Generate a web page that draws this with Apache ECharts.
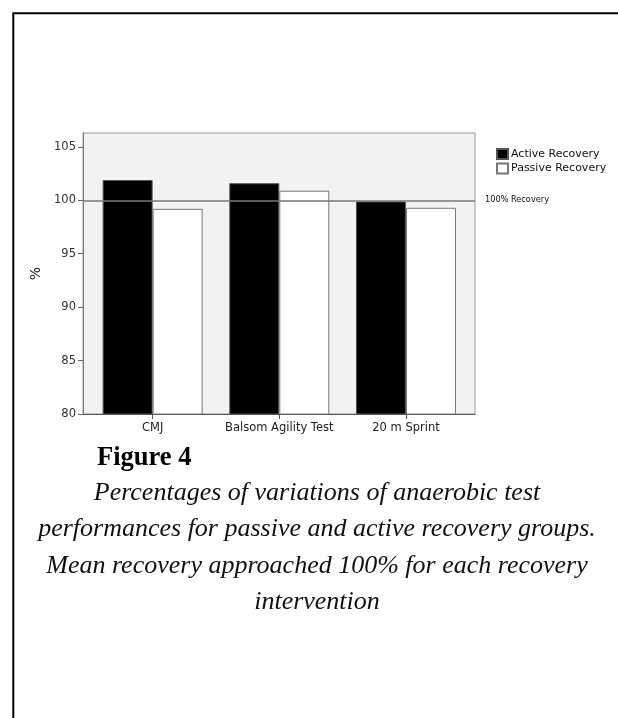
<!DOCTYPE html>
<html>
<head>
<meta charset="utf-8">
<script src="https://cdn.jsdelivr.net/npm/echarts@6/dist/echarts.min.js"></script>
<style>
  html, body { margin: 0; padding: 0; background: #fff; }
  #chart { width: 618px; height: 718px; }
</style>
</head>
<body>
<div id="chart"></div>
<script>
// ---- data ----
const categories = ['CMJ', 'Balsom Agility Test', '20 m Sprint'];
const activeRecovery = [101.9, 101.6, 99.9];
const passiveRecovery = [99.2, 100.9, 99.3];
const seriesNames = ['Active Recovery', 'Passive Recovery'];
const yTickValues = [80, 85, 90, 95, 100, 105];
const referenceValue = 100;
const referenceLabel = '100% Recovery';
const yAxisName = '%';
const figureTitle = 'Figure 4';
const captionLines = [
  'Percentages of variations of anaerobic test',
  'performances for passive and active recovery groups.',
  'Mean recovery approached 100% for each recovery',
  'intervention'
];

const yMin = 80, yMax = 106.3;
const sans = 'DejaVu Sans';

const chart = echarts.init(document.getElementById('chart'), null, { renderer: 'canvas' });

chart.setOption({
  animation: false,
  backgroundColor: '#ffffff',
  grid: [
    { // background frame
      left: 83, top: 133, width: 392, height: 281,
      show: true, backgroundColor: '#f2f2f2', borderColor: '#9a9a9a', borderWidth: 1,
      containLabel: false, outerBoundsMode: 'none'
    },
    { // bars
      left: 89.3, top: 133, width: 380, height: 281,
      show: false, containLabel: false, outerBoundsMode: 'none'
    }
  ],
  legend: {
    orient: 'vertical',
    left: 496, top: 148,
    itemWidth: 11, itemHeight: 10, itemGap: 2.5,
    icon: 'rect',
    padding: 0,
    data: seriesNames,
    textStyle: { fontFamily: sans, fontSize: 11, color: '#111', padding: [0, 0, 0, -2] },
    selectedMode: false
  },
  xAxis: [
    {
      type: 'category', gridIndex: 0, data: categories,
      axisLine: { show: true, lineStyle: { color: '#555', width: 1.2 } },
      axisTick: { show: false }, axisLabel: { show: false }, splitLine: { show: false }
    },
    {
      type: 'category', gridIndex: 1, data: categories,
      axisLine: { show: false },
      axisTick: { show: true, alignWithLabel: true, interval: 0, length: 5, lineStyle: { color: '#555' } },
      axisLabel: { show: true, interval: 0, hideOverlap: false, margin: 8, fontFamily: sans, fontSize: 11.5, color: '#222' },
      splitLine: { show: false }
    }
  ],
  yAxis: [
    {
      type: 'value', gridIndex: 0, min: yMin, max: yMax,
      name: yAxisName, nameLocation: 'middle', nameGap: 36, nameRotate: 90,
      nameTextStyle: { fontFamily: sans, fontSize: 14, color: '#222' },
      axisLine: { show: true, lineStyle: { color: '#777' } },
      axisTick: { show: true, length: 5, customValues: yTickValues, lineStyle: { color: '#666' } },
      axisLabel: { show: true, margin: 7, customValues: yTickValues, fontFamily: sans, fontSize: 11.5, color: '#333' },
      splitLine: { show: false }
    },
    {
      type: 'value', gridIndex: 1, min: yMin, max: yMax, show: false,
      splitLine: { show: false }
    }
  ],
  series: [
    {
      name: seriesNames[0], type: 'bar', xAxisIndex: 1, yAxisIndex: 1,
      data: activeRecovery, barWidth: 50, barGap: '0%',
      itemStyle: { color: '#000000', borderColor: '#555', borderWidth: 1 }
    },
    {
      name: seriesNames[1], type: 'bar', xAxisIndex: 1, yAxisIndex: 1,
      data: passiveRecovery, barWidth: 50, barGap: '0%',
      itemStyle: { color: '#ffffff', borderColor: '#777', borderWidth: 1 }
    },
    {
      name: 'ref', type: 'line', xAxisIndex: 0, yAxisIndex: 0, data: [], z: 10,
      markLine: {
        silent: true, symbol: ['none', 'none'],
        lineStyle: { color: '#777', width: 1.5, type: 'solid' },
        label: { show: true, position: 'end', distance: 10, formatter: referenceLabel,
                 fontFamily: sans, fontSize: 8.2, color: '#111' },
        data: [{ yAxis: referenceValue }]
      }
    }
  ],
  graphic: [
    {
      type: 'rect', silent: true,
      shape: { x: 13.3, y: 13.3, width: 700, height: 800 },
      style: { fill: 'none', stroke: '#000', lineWidth: 2 }
    },
    {
      type: 'text', silent: true,
      style: { text: figureTitle, x: 97, y: 458.5, textAlign: 'left', textVerticalAlign: 'middle',
               verticalAlign: 'middle',
               font: 'bold 26.5px "Liberation Serif"', fill: '#000' }
    },
    {
      type: 'text', silent: true,
      style: { text: captionLines.join('\n'), x: 317, y: 474.6, textAlign: 'center',
               textVerticalAlign: 'top', verticalAlign: 'top', lineHeight: 36.5,
               font: 'italic 26px "Liberation Serif"', fill: '#111' }
    }
  ]
});
</script>
</body>
</html>
